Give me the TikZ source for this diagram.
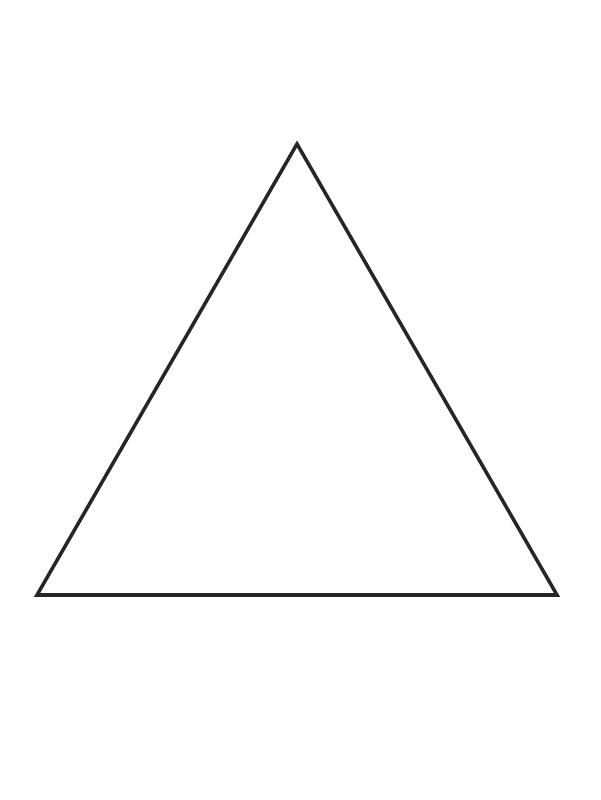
\documentclass[tikz,border=0pt]{standalone}

\begin{document}
\begin{tikzpicture}[edge/.style={line width=1pt, draw=black!85, line join=miter}]
\useasboundingbox (0, 0) rectangle (6, 8);
\coordinate (Apex) at (2.97, 6.56);
\coordinate (BaseL) at (0.37, 2.05);
\coordinate (BaseR) at (5.57, 2.05);
\draw[edge] (Apex) -- (BaseL) -- (BaseR) -- cycle;
\end{tikzpicture}
\end{document}
